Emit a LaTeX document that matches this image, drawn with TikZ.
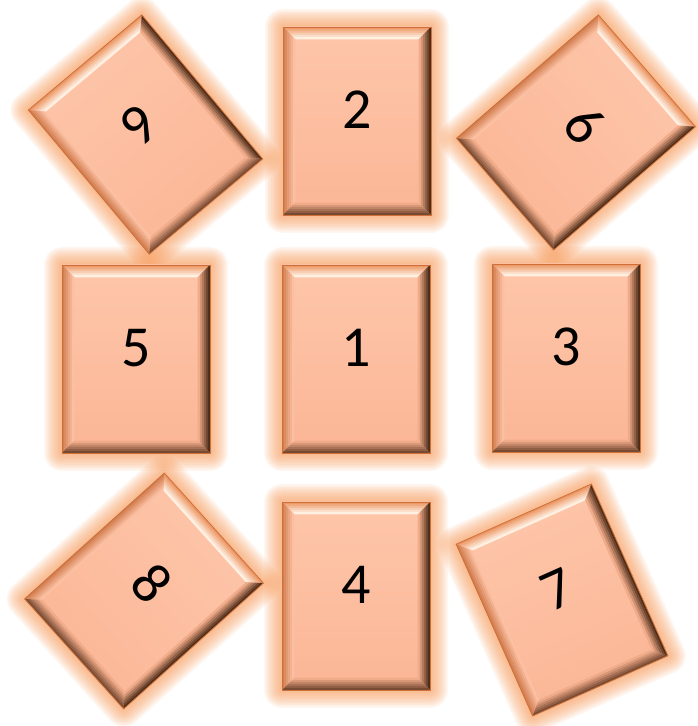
\documentclass[tikz,border=0pt]{standalone}
\usepackage{fontspec}
\setmainfont{Carlito}

\definecolor{cardtop}{RGB}{254,198,170}
\definecolor{cardbot}{RGB}{251,182,150}
\definecolor{cardglow}{RGB}{246,148,80}
\definecolor{cardline}{RGB}{205,112,58}
\definecolor{topout}{RGB}{236,150,100}
\definecolor{topin}{RGB}{255,240,226}
\definecolor{leftout}{RGB}{210,126,80}
\definecolor{leftin}{RGB}{251,192,162}
\definecolor{rightout}{RGB}{78,44,24}
\definecolor{rightin}{RGB}{240,172,138}
\definecolor{botout}{RGB}{120,74,50}
\definecolor{botin}{RGB}{240,172,138}

\tikzset{
  glowlayer/.style={fill=cardglow, opacity=0.08},
  cardedge/.style={draw=cardline, line width=0.8pt},
  cardnum/.style={font=\fontsize{58}{60}\selectfont, text=black, inner sep=0pt, transform shape}
}

% label / centre x / centre y (from the top) / turn
\newcommand\cardlist{1/356/359/0, 2/357/121/0, 3/566/358/0, 4/356/596/0, 5/136/359/0,
  6/576/132.5/-49, 7/562/600/24, 8/144/591/-48, 9/145.5/134.5/40}

\begin{document}
\begin{tikzpicture}[x=1pt, y=1pt]
    \useasboundingbox (0,0) rectangle (697,726);

    % soft glow behind every card
    \foreach \n/\cx/\cy/\ang in \cardlist {
        \begin{scope}[shift={(\cx,726-\cy)}, rotate=\ang]
            \foreach \g in {1,...,12} {
                \pgfmathsetmacro\gr{\g*1.5}
                \fill[glowlayer, rounded corners=\gr pt] (-74-\gr,-94-\gr) rectangle (74+\gr,94+\gr);
            }
        \end{scope}
    }

    % the cards
    \foreach \n/\cx/\cy/\ang in \cardlist {
        \begin{scope}[shift={(\cx,726-\cy)}, rotate=\ang]
            \shade[top color=cardtop, bottom color=cardbot, shading angle=\ang] (-74,-94) rectangle (74,94);
            \foreach \k in {0,...,5} {
                \pgfmathsetmacro\ia{\k*2}
                \pgfmathsetmacro\ib{\ia+2.4}
                \pgfmathtruncatemacro\p{100-\k*20}
                \fill[topout!\p!topin] (-74+\ia,94-\ia) -- (74-\ia,94-\ia) -- (74-\ib,94-\ib) -- (-74+\ib,94-\ib) -- cycle;
                \fill[leftout!\p!leftin] (-74+\ia,94-\ia) -- (-74+\ia,-94+\ia) -- (-74+\ib,-94+\ib) -- (-74+\ib,94-\ib) -- cycle;
                \fill[rightout!\p!rightin] (74-\ia,94-\ia) -- (74-\ia,-94+\ia) -- (74-\ib,-94+\ib) -- (74-\ib,94-\ib) -- cycle;
                \fill[botout!\p!botin] (-74+\ia,-94+\ia) -- (74-\ia,-94+\ia) -- (74-\ib,-94+\ib) -- (-74+\ib,-94+\ib) -- cycle;
            }
            \draw[cardedge] (-74,-94) rectangle (74,94);
            \node[cardnum] (card\n) at (0,11) {\n};
        \end{scope}
    }
\end{tikzpicture}
\end{document}
